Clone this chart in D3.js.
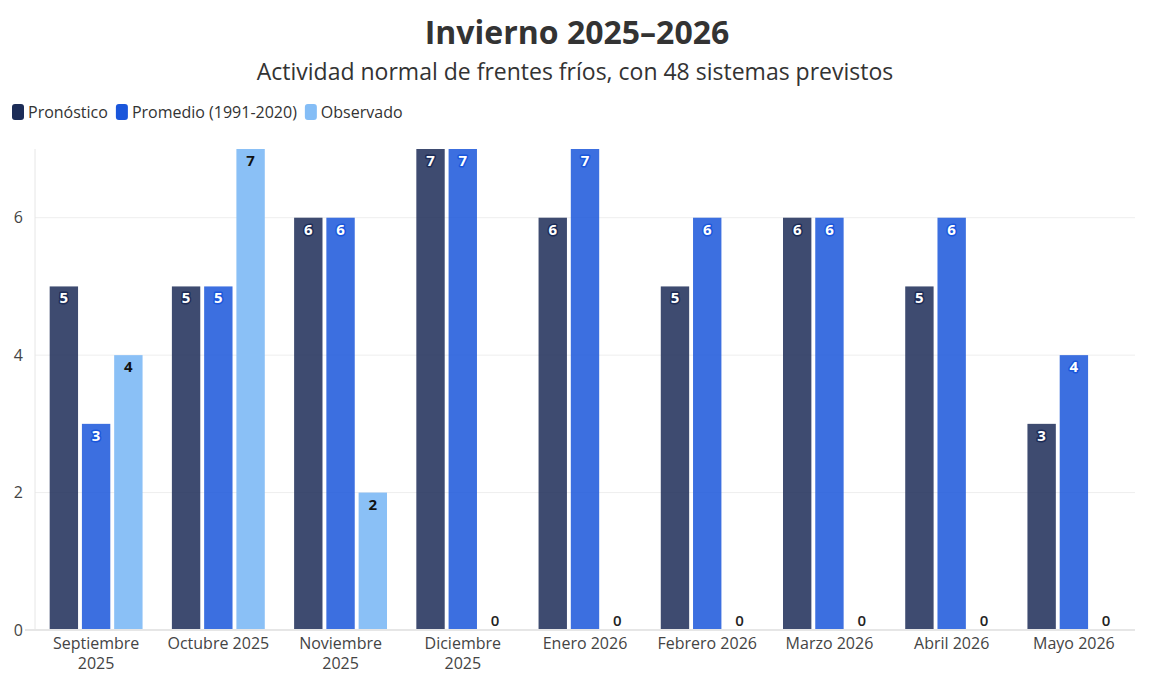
<!DOCTYPE html>
<html>
<head>
<meta charset="utf-8">
<script src="https://cdn.jsdelivr.net/npm/d3@7"></script>
<style>
  body { margin: 0; background: #fff; }
  svg { font-family: "Open Sans", "Noto Sans", sans-serif; }
</style>
</head>
<body>
<svg id="chart" width="1150" height="688"></svg>
<script>
// datos del gráfico
const meses = ["Septiembre 2025", "Octubre 2025", "Noviembre 2025", "Diciembre 2025",
  "Enero 2026", "Febrero 2026", "Marzo 2026", "Abril 2026", "Mayo 2026"];
const series = ["Pronóstico", "Promedio (1991-2020)", "Observado"];
const pronostico = [5, 5, 6, 7, 6, 5, 6, 5, 3];
const promedio = [3, 5, 6, 7, 7, 6, 6, 6, 4];
const observado = [4, 7, 2, 0, 0, 0, 0, 0, 0];
const yTicks = [0, 2, 4, 6];

const valores = [pronostico, promedio, observado];
const colores = ["#1c2c57", "#1a56db", "#84bdf6"];
const textoColor = ["#1c2c57", "#1a56db", null];

const svg = d3.select("#chart");
const W = 1150, H = 688;
const m = { top: 149, right: 15, bottom: 58, left: 35 };

svg.append("text")
  .attr("x", W / 2 + 2).attr("y", 44)
  .attr("text-anchor", "middle")
  .attr("font-size", 32).attr("font-weight", 700)
  .attr("fill", "#333")
  .text("Invierno 2025–2026");

svg.append("text")
  .attr("x", W / 2).attr("y", 80)
  .attr("text-anchor", "middle")
  .attr("font-size", 23)
  .attr("fill", "#333")
  .text("Actividad normal de frentes fríos, con 48 sistemas previstos");

// leyenda
const leg = svg.append("g").attr("transform", "translate(12,104)");
let lx = 0;
series.forEach((s, i) => {
  const g = leg.append("g").attr("transform", `translate(${lx},0)`);
  g.append("rect").attr("width", 12).attr("height", 16).attr("rx", 3)
    .attr("fill", colores[i]);
  const t = g.append("text").attr("x", 16).attr("y", 13.5)
    .attr("font-size", 16).attr("fill", "#333").text(s);
  lx += 16 + t.node().getComputedTextLength() + 8;
});

const x0 = d3.scaleBand().domain(meses)
  .range([m.left, W - m.right]).paddingInner(0.24).paddingOuter(0.12);
const x1 = d3.scaleBand().domain(d3.range(3))
  .range([0, x0.bandwidth()]).paddingInner(0.12).paddingOuter(0);
const y = d3.scaleLinear().domain([0, 7]).range([H - m.bottom, m.top]);

// rejilla
svg.append("g").selectAll("line").data(yTicks.slice(1)).join("line")
  .attr("x1", m.left).attr("x2", W - m.right)
  .attr("y1", d => y(d)).attr("y2", d => y(d))
  .attr("stroke", "#eeeeee");

svg.append("line")
  .attr("x1", m.left).attr("x2", m.left)
  .attr("y1", m.top).attr("y2", y(0))
  .attr("stroke", "#e6e6e6");

const yAxis = svg.append("g")
  .attr("transform", `translate(${m.left},0)`)
  .call(d3.axisLeft(y).tickValues(yTicks).tickFormat(d3.format("d")).tickSize(0).tickPadding(12));
yAxis.select(".domain").remove();
yAxis.selectAll("text").attr("font-size", 16).attr("fill", "#444")
  .attr("font-family", "Open Sans, sans-serif");

const grupos = svg.append("g").selectAll("g").data(meses).join("g")
  .attr("transform", d => `translate(${x0(d)},0)`);

grupos.each(function (mes, j) {
  const g = d3.select(this);
  valores.forEach((serie, i) => {
    const v = serie[j];
    const bx = x1(i);
    if (v > 0) {
      g.append("rect")
        .attr("x", bx).attr("width", x1.bandwidth())
        .attr("y", y(v)).attr("height", y(0) - y(v))
        .attr("fill", colores[i]).attr("fill-opacity", i === 2 ? 0.95 : 0.85);
    }
    const t = g.append("text")
      .attr("x", bx + x1.bandwidth() / 2)
      .attr("text-anchor", "middle")
      .attr("font-size", 15).attr("font-weight", 700);
    if (v > 0) {
      t.attr("y", y(v) + 17);
      if (textoColor[i]) {
        t.attr("fill", "#fff").attr("stroke", textoColor[i])
          .attr("stroke-width", 3).attr("paint-order", "stroke")
          .attr("stroke-linejoin", "round");
      } else {
        t.attr("fill", "#111");
      }
    } else {
      t.attr("y", y(0) - 4).attr("fill", "#222").attr("font-weight", 600);
    }
    t.text(v);
  });
});

// eje x
svg.append("line")
  .attr("x1", m.left - 10).attr("x2", W - m.right)
  .attr("y1", y(0)).attr("y2", y(0))
  .attr("stroke", "#e6e6e6").attr("stroke-width", 2);

const xAxis = svg.append("g")
  .attr("transform", `translate(0,${y(0)})`)
  .call(d3.axisBottom(x0).tickSize(0).tickPadding(8));
xAxis.select(".domain").remove();
xAxis.selectAll(".tick text").each(function (d) {
  const t = d3.select(this);
  t.attr("font-size", 16).attr("fill", "#444")
    .attr("font-family", "Open Sans, sans-serif");
  const partes = d.split(" ");
  const ancho = this.getComputedTextLength();
  if (ancho > 112) {
    t.text(null);
    partes.forEach((p, k) => {
      t.append("tspan").attr("x", 0).attr("dy", k === 0 ? "0.71em" : "1.2em").text(p);
    });
    t.attr("dy", null);
  }
});
</script>
</body>
</html>
